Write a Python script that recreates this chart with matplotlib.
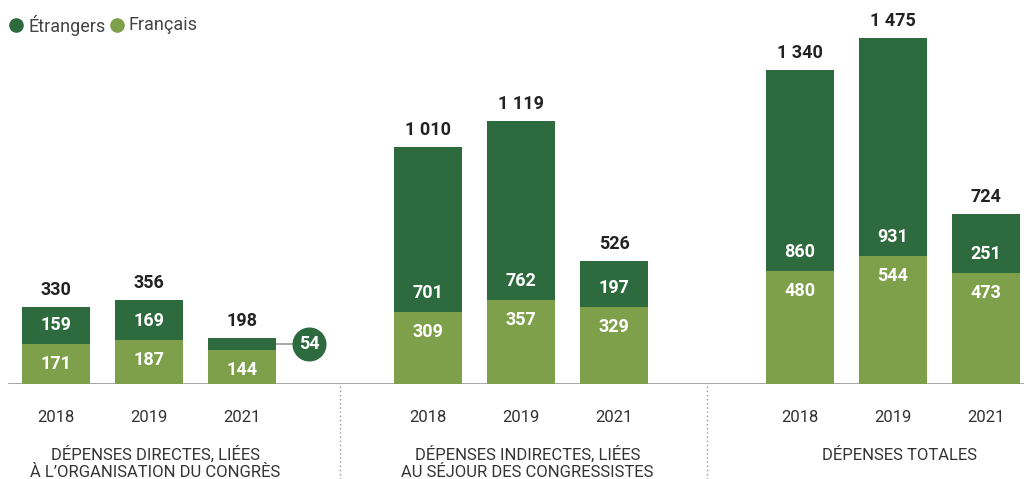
import matplotlib
matplotlib.use("Agg")
import matplotlib.pyplot as plt
from matplotlib.lines import Line2D
from matplotlib.transforms import blended_transform_factory

plt.rcParams['font.family'] = ['Roboto', 'DejaVu Sans']

years = ['2018', '2019', '2021']
group_labels = ['DÉPENSES DIRECTES, LIÉES\nÀ L\u2019ORGANISATION DU CONGRÈS',
                'DÉPENSES INDIRECTES, LIÉES\nAU SÉJOUR DES CONGRESSISTES',
                'DÉPENSES TOTALES']
francais = [[171, 187, 144], [309, 357, 329], [480, 544, 473]]
etrangers = [[159, 169, 54], [701, 762, 197], [860, 931, 251]]
legend_labels = ['Étrangers', 'Français']

DARK = '#2d6a3e'
LIGHT = '#7fa04a'

W, H = 1026, 479
fig = plt.figure(figsize=(W / 100, H / 100), dpi=100)
base_px = 384
ax = fig.add_axes([0, (H - base_px) / H, 1, base_px / H])
slot_px = 93.0
x0_px = 56.0
ax.set_xlim(-x0_px / slot_px, (W - x0_px) / slot_px)
ax.set_ylim(0, base_px / 0.2346)
ax.axis('off')

def fmt(v):
    return f"{v:,}".replace(',', ' ')

bw = 68 / slot_px
bt = blended_transform_factory(ax.transData, fig.transFigure)
NUM_FS = 13

for g in range(3):
    for i in range(3):
        x = g * 4 + i
        f = francais[g][i]
        e = etrangers[g][i]
        ax.bar(x, f, width=bw, color=LIGHT, edgecolor='none', zorder=2)
        ax.bar(x, e, bottom=f, width=bw, color=DARK, edgecolor='none', zorder=2)
        total = f + e
        ax.annotate(fmt(total), (x, total), xytext=(0, 17), textcoords='offset pixels',
                    ha='center', va='center', fontsize=NUM_FS, fontweight='bold', color='#222222')
        ax.annotate(fmt(f), (x, f), xytext=(0, -20), textcoords='offset pixels',
                    ha='center', va='center', fontsize=NUM_FS, fontweight='bold', color='white', zorder=3)
        if e >= 100:
            ax.annotate(fmt(e), (x, f), xytext=(0, 19), textcoords='offset pixels',
                        ha='center', va='center', fontsize=NUM_FS, fontweight='bold', color='white', zorder=3)
        else:
            ym = f + e / 2
            bx = x + (309 - 242) / slot_px
            ax.plot([x + bw / 2, bx], [ym, ym], color='#999999', lw=1.2, zorder=1)
            ax.plot([bx], [ym], marker='o', markersize=23.5, color=DARK, zorder=3)
            ax.text(bx, ym, fmt(e), ha='center', va='center', fontsize=NUM_FS,
                    fontweight='bold', color='white', zorder=4)
        ax.text(x, 1 - 421.5 / H, years[i], transform=bt, ha='center', va='baseline',
                fontsize=12, color='#333333')
    for k, line in enumerate(group_labels[g].split('\n')):
        ax.text(g * 4 + 1.07, 1 - (460 + 17 * k) / H, line, transform=bt, ha='center',
                va='baseline', fontsize=12, color='#333333')

# baseline
ax.axhline(0, xmin=9 / W, xmax=1022 / W, color='#a0a0a0', lw=2, zorder=1)

# dividers
for xd in [3.05, 7.0]:
    fig.add_artist(Line2D([xd, xd], [1 - 386 / H, 0], transform=bt,
                          color='#999999', lw=1, linestyle=(0, (1, 2))))

# legend
for lx, tx, c, lab in [(16, 28, DARK, legend_labels[0]), (117, 128, LIGHT, legend_labels[1])]:
    fig.add_artist(Line2D([lx / W], [1 - 25 / H], marker='o', markersize=9.5, color=c,
                          transform=fig.transFigure, linestyle='none'))
    fig.text(tx / W, 1 - 25 / H, lab, ha='left', va='center', fontsize=13, color='#444444')

fig.savefig('out.png', dpi=100)
